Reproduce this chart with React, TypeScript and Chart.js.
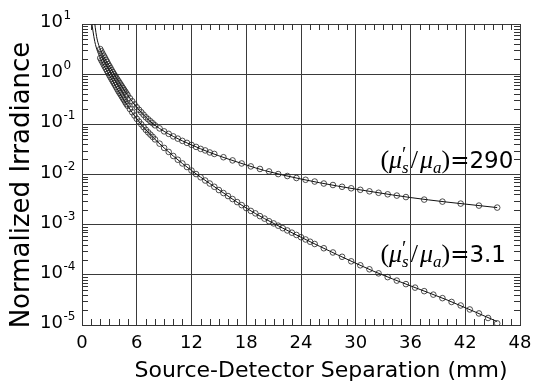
import { useEffect, useRef } from 'react';
import { Chart, registerables } from 'chart.js';
Chart.register(...registerables);

// ---- data ----
const upperX = [2, 2.125, 2.25, 2.375, 2.5, 2.625, 2.75, 2.875, 3, 3.125, 3.25, 3.375, 3.5, 3.625, 3.75, 3.875, 4, 4.125, 4.25, 4.375, 4.5, 4.625, 4.75, 4.875, 5, 5.25, 5.5, 5.75, 6, 6.25, 6.5, 6.75, 7, 7.25, 7.5, 7.75, 8, 8.5, 9, 9.5, 10, 10.5, 11, 11.5, 12, 12.5, 13, 13.5, 14, 14.5, 15.5, 16.5, 17.5, 18.5, 19.5, 20.5, 21.5, 22.5, 23.5, 24.5, 25.5, 26.5, 27.5, 28.5, 29.5, 30.5, 31.5, 32.5, 33.5, 34.5, 35.5, 37.5, 39.5, 41.5, 43.5, 45.5];
const upperY = [3.16, 2.85, 2.57, 2.34, 2.14, 1.93, 1.76, 1.58, 1.45, 1.32, 1.2, 1.1, 1.01, 0.923, 0.851, 0.785, 0.724, 0.668, 0.617, 0.569, 0.525, 0.484, 0.447, 0.412, 0.38, 0.33, 0.288, 0.25, 0.219, 0.195, 0.174, 0.155, 0.138, 0.126, 0.115, 0.105, 0.0955, 0.083, 0.0724, 0.0646, 0.0575, 0.0519, 0.0468, 0.0427, 0.0389, 0.0355, 0.0324, 0.0302, 0.0275, 0.0257, 0.0221, 0.0191, 0.0166, 0.0145, 0.0129, 0.0115, 0.0102, 0.00933, 0.00851, 0.00785, 0.00724, 0.00661, 0.00617, 0.00569, 0.00531, 0.00495, 0.00462, 0.00432, 0.00403, 0.0038, 0.00355, 0.00316, 0.00288, 0.00263, 0.0024, 0.00219];

const lowerX = [2, 2.125, 2.25, 2.375, 2.5, 2.625, 2.75, 2.875, 3, 3.125, 3.25, 3.375, 3.5, 3.625, 3.75, 3.875, 4, 4.125, 4.25, 4.375, 4.5, 4.625, 4.75, 4.875, 5, 5.25, 5.5, 5.75, 6, 6.25, 6.5, 6.75, 7, 7.25, 7.5, 7.75, 8, 8.5, 9, 9.5, 10, 10.5, 11, 11.5, 12, 12.5, 13, 13.5, 14, 14.5, 15, 15.5, 16, 16.5, 17, 17.5, 18, 18.5, 19, 19.5, 20, 20.5, 21, 21.5, 22, 22.5, 23, 23.5, 24, 24.5, 25, 25.5, 26.5, 27.5, 28.5, 29.5, 30.5, 31.5, 32.5, 33.5, 34.5, 35.5, 36.5, 37.5, 38.5, 39.5, 40.5, 41.5, 42.5, 43.5, 44.5, 45.5];
const lowerY = [2.09, 1.89, 1.72, 1.55, 1.41, 1.28, 1.16, 1.05, 0.955, 0.871, 0.794, 0.724, 0.661, 0.603, 0.55, 0.501, 0.457, 0.421, 0.389, 0.356, 0.327, 0.302, 0.275, 0.254, 0.234, 0.202, 0.174, 0.15, 0.129, 0.1135, 0.1, 0.0881, 0.0776, 0.0692, 0.0624, 0.0562, 0.0501, 0.0412, 0.0339, 0.0282, 0.0234, 0.0197, 0.0166, 0.0141, 0.012, 0.0102, 0.00881, 0.00759, 0.00661, 0.00569, 0.0049, 0.00427, 0.00372, 0.00324, 0.00282, 0.00245, 0.00214, 0.00188, 0.00168, 0.00148, 0.00132, 0.00117, 0.00106, 0.000955, 0.000851, 0.000767, 0.000692, 0.000624, 0.000562, 0.000507, 0.000457, 0.000412, 0.000339, 0.000279, 0.000229, 0.000186, 0.000155, 0.000129, 0.000107, 0.00009, 0.0000767, 0.0000653, 0.0000556, 0.0000473, 0.0000403, 0.0000343, 0.0000288, 0.0000245, 0.0000204, 0.000017, 0.0000138, 0.0000108];

const upperLineX = [1.3, 1.6, 2, 3, 4, 5, 6, 7, 8, 10, 12, 14, 16, 18, 20, 24, 28, 32, 36, 40, 45.5];
const upperLineY = [14.1, 5.6, 3.16, 1.45, 0.72, 0.38, 0.219, 0.138, 0.0955, 0.0575, 0.0389, 0.0275, 0.0204, 0.0155, 0.012, 0.00813, 0.00589, 0.00447, 0.00347, 0.00282, 0.00219];
const lowerLineX = [1.0, 1.4, 2, 3, 4, 5, 6, 7, 8, 10, 12, 14, 16, 18, 20, 24, 28, 32, 36, 40, 45.5];
const lowerLineY = [12.6, 4.47, 2.09, 0.955, 0.457, 0.234, 0.129, 0.0776, 0.0501, 0.0234, 0.012, 0.00661, 0.00372, 0.00214, 0.00132, 0.000562, 0.000251, 0.000117, 0.0000603, 0.0000316, 0.0000117];

const xTicks = [0, 6, 12, 18, 24, 30, 36, 42, 48];
const yTickValues = [10, 1, 0.1, 0.01, 0.001, 0.0001, 0.00001];
const yTickExponents = ['1', '0', '-1', '-2', '-3', '-4', '-5'];
const xTitle = 'Source-Detector Separation (mm)';
const yTitle = 'Normalized Irradiance';
const ratioLabels = ['290', '3.1'];
const ratioAnchorX = [32.7, 32.7];
const ratioAnchorY = [0.0135, 0.000182];

const SANS = '"DejaVu Sans", sans-serif';
const SERIF = '"Liberation Serif", "DejaVu Serif", serif';

const toPts = (xs: number[], ys: number[]) => xs.map((x, i) => ({ x, y: ys[i] }));

const drawPlugin = {
  id: 'decor',
  afterDraw(chart: any) {
    const ctx: CanvasRenderingContext2D = chart.ctx;
    const xs = chart.scales.x;
    const ys = chart.scales.y;
    const area = chart.chartArea;
    ctx.save();
    // minor ticks
    ctx.strokeStyle = '#333';
    ctx.lineWidth = 1;
    ctx.beginPath();
    for (let v = 1; v < 48; v++) {
      if (v % 6 === 0) continue;
      const px = Math.round(xs.getPixelForValue(v)) + 0.5;
      ctx.moveTo(px, area.bottom);
      ctx.lineTo(px, area.bottom - 6);
      ctx.moveTo(px, area.top);
      ctx.lineTo(px, area.top + 6);
    }
    for (let i = 1; i < yTickValues.length; i++) {
      const base = yTickValues[i];
      for (let m = 2; m <= 9; m++) {
        const py = Math.round(ys.getPixelForValue(base * m)) + 0.5;
        ctx.moveTo(area.left, py);
        ctx.lineTo(area.left + 6, py);
        ctx.moveTo(area.right, py);
        ctx.lineTo(area.right - 6, py);
      }
    }
    ctx.stroke();

    ctx.fillStyle = '#000';
    // x tick labels
    ctx.font = '18px ' + SANS;
    ctx.textAlign = 'center';
    ctx.textBaseline = 'alphabetic';
    xTicks.forEach((t) => {
      ctx.fillText(String(t), xs.getPixelForValue(t), 348);
    });
    // y tick labels
    yTickValues.forEach((v, i) => {
      const py = ys.getPixelForValue(v);
      ctx.font = '18px ' + SANS;
      ctx.textAlign = 'right';
      ctx.fillText('10', 63, py + 3);
      ctx.font = '12px ' + SANS;
      ctx.textAlign = 'left';
      ctx.fillText(yTickExponents[i], 63.5, py - 5);
    });
    // titles
    ctx.font = '22px ' + SANS;
    ctx.textAlign = 'center';
    ctx.fillText(xTitle, 321, 377);
    ctx.save();
    ctx.translate(29, 185);
    ctx.rotate(-Math.PI / 2);
    ctx.font = '26px ' + SANS;
    ctx.fillText(yTitle, 0, 0);
    ctx.restore();

    // ratio annotations
    ratioLabels.forEach((lab, i) => {
      let x = xs.getPixelForValue(ratioAnchorX[i]);
      const y = ys.getPixelForValue(ratioAnchorY[i]);
      ctx.textAlign = 'left';
      const part = (txt: string, font: string, dy = 0) => {
        ctx.font = font;
        ctx.fillText(txt, x, y + dy);
        x += ctx.measureText(txt).width;
      };
      part('(', '26px ' + SERIF);
      part('\u03bc', 'italic 26px ' + SERIF);
      const sx = x;
      part('\u2032', '20px ' + SERIF, -7);
      x = sx;
      part('s', 'italic 17px ' + SERIF, 5);
      x += 2;
      part('/', '26px ' + SERIF);
      x += 2;
      part('\u03bc', 'italic 26px ' + SERIF);
      part('a', 'italic 17px ' + SERIF, 5);
      part(')', '26px ' + SERIF);
      part('=', '23px ' + SANS);
      part(lab, '23px ' + SANS);
    });
    ctx.restore();
  },
};

export default function App() {
  const ref = useRef<HTMLCanvasElement | null>(null);
  useEffect(() => {
    document.body.style.margin = '0';
    const canvas = ref.current!;
    const lineStyle = {
      showLine: true,
      pointRadius: 0,
      borderColor: '#111',
      borderWidth: 1,
      cubicInterpolationMode: 'monotone' as const,
      fill: false,
      clip: 0,
    };
    const dotStyle = {
      showLine: false,
      pointRadius: 2.8,
      pointBorderWidth: 0.8,
      pointBorderColor: '#222',
      pointBackgroundColor: 'rgba(0,0,0,0)',
      borderColor: '#222',
    };
    const chart = new Chart(canvas, {
      type: 'scatter',
      data: {
        datasets: [
          { data: toPts(upperLineX, upperLineY), ...lineStyle },
          { data: toPts(lowerLineX, lowerLineY), ...lineStyle },
          { data: toPts(upperX, upperY), ...dotStyle },
          { data: toPts(lowerX, lowerY), ...dotStyle },
        ],
      },
      options: {
        animation: false,
        responsive: false,
        devicePixelRatio: 1,
        layout: { padding: { top: 24, right: 13, left: 0, bottom: 0 } },
        plugins: { legend: { display: false }, tooltip: { enabled: false } },
        scales: {
          x: {
            type: 'linear',
            min: 0,
            max: 48,
            ticks: { display: false, stepSize: 6 },
            grid: { color: '#3a3a3a', lineWidth: 1, drawTicks: false },
            border: { display: true, color: '#333' },
            afterFit: (s: any) => { s.height = 57; },
          },
          y: {
            type: 'logarithmic',
            min: 0.00001,
            max: 10,
            ticks: { display: false },
            afterBuildTicks: (s: any) => { s.ticks = yTickValues.map((v) => ({ value: v })); },
            grid: { color: '#3a3a3a', lineWidth: 1, drawTicks: false },
            border: { display: true, color: '#333' },
            afterFit: (s: any) => { s.width = 82; },
          },
        },
      },
      plugins: [drawPlugin],
    } as any);
    return () => chart.destroy();
  }, []);
  return (
    <div style={{ position: 'absolute', left: 0, top: 0, width: 533, height: 382, background: '#fff' }}>
      <canvas ref={ref} width={533} height={382} />
    </div>
  );
}
